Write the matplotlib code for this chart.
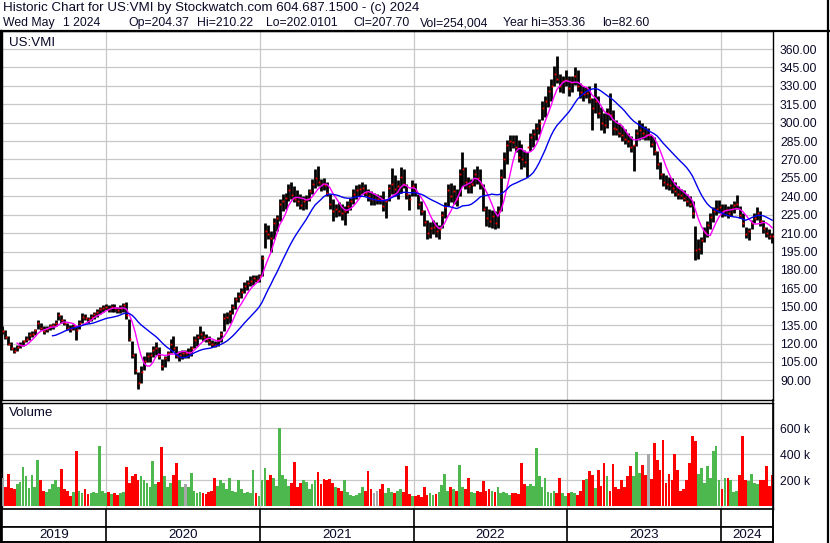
import matplotlib
matplotlib.use("Agg")
import matplotlib.pyplot as plt
import matplotlib.dates as mdates
from matplotlib.lines import Line2D
import numpy as np
import pandas as pd

# ---------------- data (weekly) ----------------
week_dates = pd.date_range("2019-05-01", periods=262, freq="7D")

lows = [
    128, 124, 119, 115, 112, 114, 116, 118, 121, 123,
    125, 127, 132, 131, 128, 129, 131, 132, 134, 139,
    137, 135, 131, 129, 131, 123, 132, 137, 139, 137,
    138, 140, 142, 144, 146, 147, 146, 146, 146, 145,
    145, 146, 140, 122, 108, 95, 83, 88, 98, 105,
    105, 109, 111, 107, 98, 101, 106, 112, 114, 108,
    106, 107, 108, 108, 110, 116, 118, 124, 122, 121,
    119, 117, 117, 118, 121, 130, 136, 137, 144, 148,
    154, 157, 161, 164, 167, 168, 170, 170, 175, 198,
    205, 195, 205, 212, 220, 228, 230, 236, 238, 235,
    232, 230, 229, 230, 236, 242, 247, 248, 244, 245,
    240, 230, 220, 223, 224, 221, 217, 226, 229, 234,
    238, 240, 242, 240, 236, 233, 233, 234, 234, 228,
    222, 236, 242, 240, 238, 243, 247, 238, 229, 240,
    240, 230, 225, 216, 205, 206, 209, 207, 205, 214,
    222, 232, 235, 234, 232, 240, 248, 246, 243, 243,
    248, 250, 246, 228, 216, 215, 214, 213, 214, 228,
    255, 266, 277, 279, 276, 268, 262, 264, 256, 277,
    280, 286, 291, 302, 305, 313, 318, 330, 332, 325,
    324, 330, 322, 325, 331, 326, 320, 318, 320, 316,
    294, 308, 304, 294, 292, 296, 302, 290, 290, 288,
    285, 283, 280, 276, 261, 281, 286, 287, 286, 286,
    280, 274, 262, 254, 248, 246, 245, 243, 240, 238,
    238, 236, 232, 231, 222, 188, 189, 193, 203, 207,
    213, 219, 225, 226, 223, 224, 222, 224, 226, 230,
    222, 215, 206, 204, 213, 218, 221, 216, 210, 207,
    205, 202,
]

highs = [
    134, 131, 126, 121, 117, 119, 121, 123, 126, 129,
    130, 132, 139, 137, 134, 134, 136, 137, 139, 146,
    143, 140, 137, 135, 136, 134, 139, 145, 144, 142,
    144, 146, 148, 150, 151, 152, 151, 152, 152, 150,
    151, 153, 154, 140, 122, 112, 97, 102, 110, 113,
    113, 118, 121, 117, 107, 110, 114, 124, 126, 118,
    114, 115, 115, 116, 118, 126, 128, 134, 130, 128,
    126, 123, 122, 125, 130, 145, 146, 147, 152, 158,
    162, 165, 170, 172, 175, 176, 176, 177, 192, 218,
    217, 212, 222, 225, 238, 242, 243, 250, 252, 248,
    245, 242, 240, 241, 246, 254, 262, 265, 254, 255,
    252, 242, 238, 234, 235, 234, 232, 236, 239, 246,
    249, 250, 252, 250, 246, 244, 243, 242, 241, 244,
    238, 250, 263, 257, 253, 264, 262, 250, 242, 253,
    251, 242, 236, 229, 221, 219, 221, 219, 217, 228,
    235, 250, 251, 249, 246, 262, 276, 264, 256, 254,
    262, 265, 262, 250, 232, 230, 229, 228, 232, 262,
    276, 286, 290, 290, 290, 286, 283, 278, 276, 292,
    295, 300, 303, 318, 322, 330, 336, 346, 354, 340,
    338, 343, 338, 338, 345, 343, 332, 330, 329, 330,
    320, 332, 322, 313, 308, 312, 324, 310, 302, 300,
    297, 295, 292, 289, 282, 295, 302, 300, 297, 296,
    290, 288, 277, 268, 259, 257, 256, 255, 252, 248,
    246, 245, 242, 240, 236, 216, 205, 207, 215, 220,
    226, 231, 237, 237, 234, 234, 232, 234, 236, 241,
    232, 226, 215, 214, 221, 226, 231, 228, 221, 215,
    213, 210,
]

closes = [
    130, 125, 120, 116, 114, 117, 119, 122, 124, 127,
    128, 131, 137, 133, 130, 132, 134, 135, 137, 143,
    139, 137, 133, 132, 134, 131, 137, 142, 141, 140,
    142, 144, 146, 148, 149, 150, 148, 150, 149, 147,
    149, 151, 143, 124, 111, 98, 88, 97, 106, 110,
    111, 115, 116, 110, 102, 108, 112, 120, 116, 110,
    111, 112, 112, 113, 116, 123, 125, 128, 125, 124,
    121, 120, 119, 123, 128, 141, 142, 145, 150, 156,
    159, 162, 167, 169, 171, 173, 172, 175, 190, 212,
    209, 206, 218, 222, 234, 236, 239, 245, 241, 238,
    236, 233, 236, 238, 244, 250, 255, 252, 250, 249,
    243, 234, 228, 230, 228, 226, 228, 232, 236, 242,
    245, 246, 247, 243, 240, 238, 238, 238, 237, 232,
    236, 247, 250, 246, 248, 256, 250, 242, 238, 248,
    244, 234, 228, 219, 210, 214, 215, 212, 213, 225,
    231, 245, 240, 244, 238, 258, 262, 252, 248, 250,
    258, 255, 250, 230, 222, 220, 224, 218, 228, 256,
    270, 282, 285, 284, 280, 272, 270, 268, 280, 288,
    291, 296, 300, 312, 318, 326, 330, 340, 336, 330,
    334, 335, 328, 333, 338, 330, 325, 323, 324, 320,
    312, 318, 308, 300, 298, 308, 306, 296, 295, 292,
    290, 287, 285, 280, 282, 292, 294, 292, 290, 290,
    283, 277, 266, 258, 252, 250, 249, 247, 244, 242,
    241, 239, 236, 234, 226, 196, 197, 204, 211, 217,
    223, 228, 230, 231, 228, 229, 226, 230, 233, 234,
    225, 218, 209, 212, 218, 222, 226, 220, 214, 210,
    208, 207.7,
]

volumes_k = [
    215, 150, 250, 140, 135, 175, 185, 300, 230, 140,
    240, 150, 355, 200, 120, 110, 130, 175, 200, 150,
    285, 130, 120, 80, 110, 425, 120, 100, 130, 95,
    100, 110, 100, 465, 120, 100, 110, 95, 100, 90,
    100, 110, 305, 180, 230, 250, 200, 230, 200, 180,
    150, 350, 170, 190, 460, 230, 150, 180, 240, 330,
    200, 150, 170, 150, 255, 120, 100, 110, 100, 95,
    110, 120, 220, 160, 200, 180, 130, 220, 120, 110,
    200, 130, 100, 110, 105, 280, 100, 80, 205, 297,
    200, 240, 220, 160, 600, 240, 210, 160, 180, 343,
    150, 180, 200, 190, 130, 170, 200, 265, 170, 210,
    200, 210, 180, 150, 140, 120, 200, 110, 90, 80,
    85, 100, 150, 120, 272, 130, 100, 120, 130, 170,
    100, 140, 110, 100, 120, 130, 110, 313, 95, 80,
    80, 85, 75, 150, 90, 100, 90, 95, 110, 165,
    250, 120, 150, 130, 120, 318, 150, 130, 215, 110,
    100, 120, 110, 195, 120, 130, 120, 110, 150, 100,
    110, 100, 90, 100, 100, 95, 336, 170, 160, 175,
    160, 450, 230, 150, 220, 110, 100, 120, 100, 220,
    100, 80, 100, 110, 100, 90, 120, 200, 210, 270,
    240, 140, 280, 160, 330, 230, 120, 325, 150, 130,
    200, 150, 230, 310, 230, 418, 260, 318, 240, 400,
    210, 485, 360, 280, 510, 180, 250, 200, 400, 280,
    120, 130, 200, 330, 538, 502, 250, 292, 180, 313,
    220, 425, 464, 200, 130, 220, 220, 200, 110, 120,
    240, 541, 200, 195, 250, 180, 170, 200, 200, 313,
    160, 240,
]

price_ticks = [90, 105, 120, 135, 150, 165, 180, 195, 210, 225,
               240, 255, 270, 285, 300, 315, 330, 345, 360]
volume_ticks = [200000, 400000, 600000]
volume_tick_labels = ["200 k", "400 k", "600 k"]
years = ["2019", "2020", "2021", "2022", "2023", "2024"]
header_line1 = "Historic Chart for US:VMI by Stockwatch.com 604.687.1500 - (c) 2024"
header_parts = [("Wed May", 3), ("1 2024", 63), ("Op=204.37", 128), ("Hi=210.22", 197),
                ("Lo=202.0101", 266), ("Cl=207.70", 353), ("Vol=254,004", 420),
                ("Year hi=353.36", 503), ("lo=82.60", 602)]

# ---------------- figure ----------------
W, H = 830, 543
fig = plt.figure(figsize=(W / 100, H / 100), dpi=100)
fig.patch.set_facecolor("white")
FONT = "Liberation Sans"
TXT = "#0a0a28"
GRID = "#c8c8c8"


def rect(left, top, right, bottom):
    return [left / W, 1 - bottom / H, (right - left) / W, (bottom - top) / H]


x = mdates.date2num(week_dates)
xmin = mdates.date2num(pd.Timestamp("2019-04-30"))
xmax = mdates.date2num(pd.Timestamp("2024-05-03"))
year_bounds = [mdates.date2num(pd.Timestamp(f"{y}-01-01")) for y in range(2020, 2025)]

lows_a = np.array(lows, float)
highs_a = np.array(highs, float)
closes_a = np.array(closes, float)
vol_a = np.array(volumes_k, float) * 1000

# ---- price panel ----
axp = fig.add_axes(rect(2, 31, 773, 400))
axp.set_xlim(xmin, xmax)
axp.set_ylim(73.95, 374.75)
axp.set_axisbelow(True)
axp.set_yticks(price_ticks)
axp.set_yticklabels([f"{v:.2f}" for v in price_ticks], family=FONT, fontsize=8.7, color=TXT)
axp.yaxis.tick_right()
axp.tick_params(axis="y", length=0, pad=5)
axp.set_xticks(year_bounds)
axp.set_xticklabels([])
axp.tick_params(axis="x", length=0)
axp.grid(True, color=GRID, lw=0.9)
for s in axp.spines.values():
    s.set_color("black")
    s.set_linewidth(1.0)

axp.vlines(x, lows_a, highs_a, color="black", lw=2.0, zorder=3)
axp.plot(x + 1.5, closes_a, ls="none", marker="s", ms=1.3, mew=0,
         color="#ff0000", zorder=4)
ma_fast = pd.Series(closes_a).rolling(6).mean()
ma_slow = pd.Series(closes_a).rolling(18).mean()
axp.plot(x, ma_fast, color="#ff00ff", lw=1.0, zorder=5)
axp.plot(x, ma_slow, color="#0000ee", lw=1.0, zorder=5)
axp.text(7 / 771, 1 - (43 - 31) / 369, "US:VMI", transform=axp.transAxes,
         family=FONT, fontsize=9.6, color=TXT, va="center", ha="left")

# ---- volume panel ----
axv = fig.add_axes(rect(2, 402.5, 773, 509))
axv.set_xlim(xmin, xmax)
axv.set_ylim(-21000, 800000)
axv.set_axisbelow(True)
axv.set_yticks(volume_ticks)
axv.set_yticklabels(volume_tick_labels, family=FONT, fontsize=8.7, color=TXT)
axv.yaxis.tick_right()
axv.tick_params(axis="y", length=0, pad=5)
axv.set_xticks(year_bounds)
axv.set_xticklabels([])
axv.tick_params(axis="x", length=0)
axv.grid(True, color=GRID, lw=0.9)
for s in axv.spines.values():
    s.set_color("black")
    s.set_linewidth(1.0)
prev = np.concatenate([[closes_a[0]], closes_a[:-1]])
vcolors = np.where(closes_a > prev, "#4db84d", np.where(closes_a < prev, "#ff0000", "#a8a8a8"))
axv.bar(x, vol_a, width=6.5, color=vcolors, linewidth=0, zorder=3)
axv.text(7 / 771, 1 - (413 - 402.5) / 106.5, "Volume", transform=axv.transAxes,
         family=FONT, fontsize=9.6, color=TXT, va="center", ha="left")

# ---- bottom bands ----
axb1 = fig.add_axes(rect(2, 509, 773, 527))
axb2 = fig.add_axes(rect(2, 527, 773, 542))
edges = [xmin] + year_bounds + [xmax]
for a in (axb1, axb2):
    a.set_xlim(xmin, xmax)
    a.set_ylim(0, 1)
    a.set_xticks([])
    a.set_yticks([])
    for s in a.spines.values():
        s.set_color("black")
        s.set_linewidth(1.2)
    a.vlines(year_bounds, 0, 1, color="black", lw=1.2)
for i, y in enumerate(years):
    axb2.text((edges[i] + edges[i + 1]) / 2, 0.45, y, ha="center", va="center",
              family=FONT, fontsize=9.6, color=TXT)

# ---- frame & header ----
fig.add_artist(Line2D([0, 1], [1 - 30.5 / H] * 2, color="black", lw=1.6,
                      transform=fig.transFigure))
fig.add_artist(Line2D([1 / W, 1 / W], [0, 1 - 30.5 / H], color="black", lw=1.6,
                      transform=fig.transFigure))
fig.add_artist(Line2D([828 / W, 828 / W], [0, 1], color="black", lw=1.6,
                      transform=fig.transFigure))
fig.add_artist(Line2D([773 / W, 773 / W], [1 - 542 / H, 1 - 400 / H], color="black", lw=1.2,
                      transform=fig.transFigure))
fig.add_artist(Line2D([1 / W, 773 / W], [1 - 542 / H] * 2, color="black", lw=1.2,
                      transform=fig.transFigure))

fig.text(3 / W, 1 - 8.5 / H, header_line1, family=FONT, fontsize=9.6, color=TXT,
         ha="left", va="center")
for txt, px in header_parts:
    fig.text(px / W, 1 - 23 / H, txt, family=FONT, fontsize=8.8, color=TXT,
             ha="left", va="center")

fig.savefig("out.png", dpi=100)
